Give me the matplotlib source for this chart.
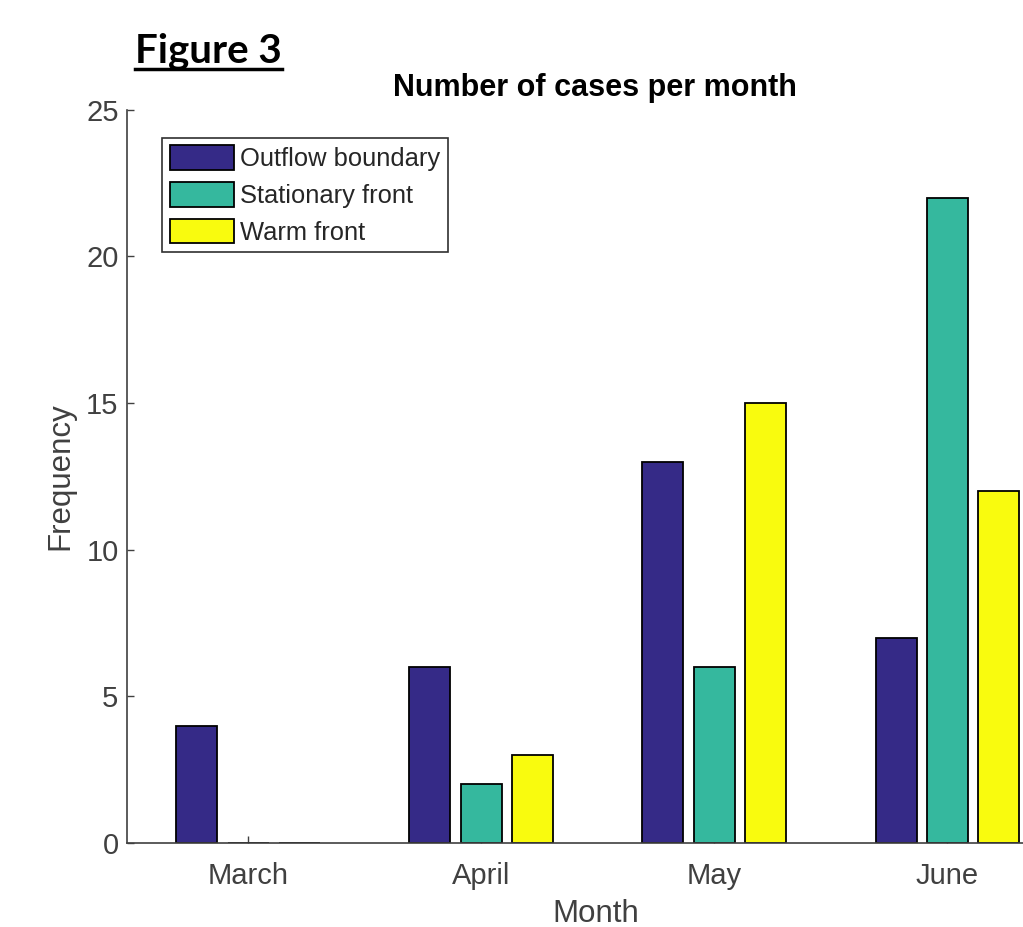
import numpy as np
import matplotlib.pyplot as plt
from matplotlib.lines import Line2D

months = ['March', 'April', 'May', 'June']
series = ['Outflow boundary', 'Stationary front', 'Warm front']
outflow = [4, 6, 13, 7]
stationary = [0, 2, 6, 22]
warm = [0, 3, 15, 12]
colors = ['#352A87', '#35B89E', '#F9FB0E']

plt.rcParams['font.family'] = ['Liberation Sans', 'DejaVu Sans']

fig = plt.figure(figsize=(10.23, 9.27), dpi=100)
ax = fig.add_axes([0.124, 0.0906, 0.916, 0.791])

x = np.arange(1, len(months) + 1)
width = 0.176
offset = 0.22
for i, (vals, name) in enumerate(zip([outflow, stationary, warm], series)):
    ax.bar(x + (i - 1) * offset, vals, width, color=colors[i],
           edgecolor='black', linewidth=1.3, label=name)

ax.set_xlim(0.48, 4.5)
ax.set_ylim(0, 25)
ax.set_yticks([0, 5, 10, 15, 20, 25])
ax.set_xticks(x)
ax.set_xticklabels(months)
ax.set_axisbelow(True)

gray = '#404040'
for side in ['top', 'right']:
    ax.spines[side].set_visible(False)
for side in ['left', 'bottom']:
    ax.spines[side].set_color(gray)
    ax.spines[side].set_linewidth(1.2)
ax.tick_params(direction='in', length=5, width=1, color=gray,
               labelcolor=gray, labelsize=21)
ax.tick_params(axis='x', pad=14)
ax.tick_params(axis='y', pad=6)

ax.set_xlabel('Month', fontsize=22.5, color=gray, labelpad=6)
ax.set_ylabel('Frequency', fontsize=22.5, color=gray, labelpad=8)
ax.set_title('Number of cases per month', fontsize=22, fontweight='bold',
             pad=10)

leg = ax.legend(loc='upper left', bbox_to_anchor=(0.038, 0.962),
                borderaxespad=0, fontsize=18.4, fancybox=False,
                edgecolor='#303030', framealpha=1, handlelength=2.5,
                handleheight=1.1, handletextpad=0.25, labelspacing=0.42,
                borderpad=0.3)
leg.get_frame().set_linewidth(1.2)
for t in leg.get_texts():
    t.set_color('#262626')

# heading with underline
head = fig.text(135 / 1023, 1 - 63 / 927, 'Figure 3', fontsize=29,
                fontweight='bold', family=['Lato', 'DejaVu Sans'],
                ha='left', va='baseline')
fig.canvas.draw()
bb = head.get_window_extent().transformed(fig.transFigure.inverted())
uy = 1 - 69 / 927
fig.add_artist(Line2D([bb.x0, bb.x1], [uy, uy], color='black', linewidth=2.5))

fig.savefig('out.png', dpi=100)
